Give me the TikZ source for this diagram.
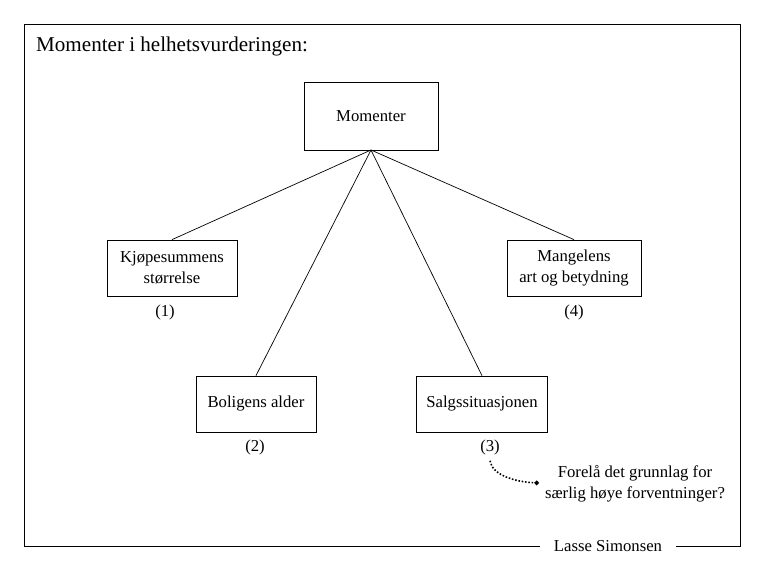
\documentclass[tikz,border=0pt]{standalone}
\usepackage{fontspec}
\setmainfont{Liberation Serif}
\usetikzlibrary{arrows.meta}

\begin{document}
\begin{tikzpicture}[x=0.02cm,y=-0.02cm,
    box/.style={draw,align=center,font=\fontsize{9.5}{12}\selectfont},
    lbl/.style={font=\fontsize{9.5}{12}\selectfont}]
                % Canvas and outer frame
                \useasboundingbox (0,0) rectangle (765,570);
                \draw (540,546) -- (24,546) -- (24,24) -- (740,24) -- (740,546) -- (676,546);
                \node[anchor=west,font=\fontsize{12}{14}\selectfont] (title) at (30,46) {Momenter i helhetsvurderingen:};
                \node[lbl] (sign) at (608,546) {Lasse Simonsen};
                % Boxes
                \node[box,minimum width=134*0.02cm,minimum height=68*0.02cm] (mom) at (371,116) {Momenter};
                \node[box,minimum width=130*0.02cm,minimum height=56*0.02cm] (kjop) at (172,268) {Kjøpesummens\\størrelse};
                \node[box,minimum width=134*0.02cm,minimum height=56*0.02cm] (mang) at (574,268) {Mangelens\\art og betydning};
                \node[box,minimum width=120*0.02cm,minimum height=56*0.02cm] (bol) at (256,404) {Boligens alder};
                \node[box,minimum width=131*0.02cm,minimum height=56*0.02cm] (salg) at (482,404) {Salgssituasjonen};
                % Connectors
                \coordinate (top) at (371,150);
                \foreach \b in {kjop,mang,bol,salg}{
                    \draw (top) -- (\b.north);
                }
                % Numbers
                \node[lbl] (n1) at (165,312) {(1)};
                \node[lbl] (n4) at (574,312) {(4)};
                \node[lbl] (n2) at (255,447) {(2)};
                \node[lbl] (n3) at (490,447) {(3)};
                % Question
                \node[lbl,align=center] (q) at (635,484) {Forelå det grunnlag for\\særlig høye forventninger?};
                \draw[densely dotted,line width=0.9pt,-{Circle[length=2.5pt]}] (n3.south) .. controls (492,475) and (515,482) .. (q.west |- 0,483);
\end{tikzpicture}
\end{document}
